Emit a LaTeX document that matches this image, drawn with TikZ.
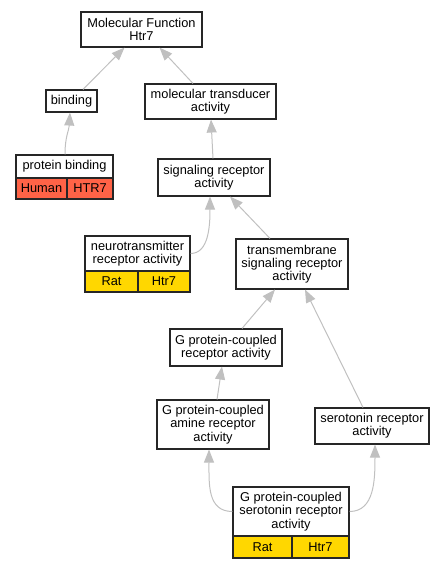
\documentclass[tikz,border=0pt]{standalone}
\usepackage{fontspec}
\setmainfont{Liberation Sans}
\usetikzlibrary{arrows.meta,calc}
\definecolor{edgec}{HTML}{C0C0C0}
\definecolor{redc}{HTML}{FF6347}
\definecolor{goldc}{HTML}{FFD700}
\newcommand{\lblfont}{\fontsize{12.8}{13.3}\selectfont}
\tikzset{
  box/.style={draw=black!85, line width=1.1pt, fill=white, inner sep=0pt, align=center, font=\lblfont, text=black},
  redcell/.style={box, fill=redc},
  goldcell/.style={box, fill=goldc},
  edge/.style={draw=edgec, line width=1pt, -{Triangle[length=13pt,width=10pt,fill=edgec]}}
}
\begin{document}
\begin{tikzpicture}[x=1pt,y=1pt]
\useasboundingbox (0,0) rectangle (445,-568);
% nodes
\node[box, minimum width=121pt, minimum height=35pt] (mf) at (141.5,-29.5) {Molecular Function\\Htr7};
\node[box, minimum width=51pt, minimum height=22pt] (bind) at (71.5,-101) {binding};
\node[box, minimum width=131pt, minimum height=35pt] (mt) at (210.5,-101.5) {molecular transducer\\activity};
\node[box, minimum width=97pt, minimum height=23pt] (pb) at (64.5,-166.5) {protein binding};
\node[redcell, minimum width=51pt, minimum height=21pt] (pbh) at (41.5,-188.5) {Human};
\node[redcell, minimum width=46pt, minimum height=21pt] (pbg) at (90,-188.5) {HTR7};
\node[box, minimum width=112pt, minimum height=37pt] (sr) at (214,-177.5) {signaling receptor\\activity};
\node[box, minimum width=105pt, minimum height=35pt] (nt) at (137.5,-253.5) {neurotransmitter\\receptor activity};
\node[goldcell, minimum width=53pt, minimum height=21pt] (ntr) at (111.5,-281.5) {Rat};
\node[goldcell, minimum width=52pt, minimum height=21pt] (ntg) at (164,-281.5) {Htr7};
\node[box, minimum width=112pt, minimum height=50pt] (tm) at (292,-264) {transmembrane\\signaling receptor\\activity};
\node[box, minimum width=112pt, minimum height=37pt] (gpcr) at (226,-347.5) {G protein-coupled\\receptor activity};
\node[box, minimum width=112pt, minimum height=49pt] (am) at (213,-424.5) {G protein-coupled\\amine receptor\\activity};
\node[box, minimum width=114pt, minimum height=36pt] (ser) at (372,-426) {serotonin receptor\\activity};
\node[box, minimum width=116pt, minimum height=49pt] (gs) at (291,-511.5) {G protein-coupled\\serotonin receptor\\activity};
\node[goldcell, minimum width=59pt, minimum height=22pt] (gsr) at (262.5,-547) {Rat};
\node[goldcell, minimum width=57pt, minimum height=22pt] (gsg) at (320.5,-547) {Htr7};
% edges
\draw[edge] ($(bind.north)+(11.5,0)$) -- ($(mf.south)+(-17,0)$);
\draw[edge] ($(mt.north)+(-17.5,0)$) -- ($(mf.south)+(18,0)$);
\draw[edge] ($(pb.north)+(0.5,0)$) .. controls +(0,18) and +(-1,-18) .. ($(bind.south)+(-1.5,0)$);
\draw[edge] ($(sr.north)+(-1,0)$) -- ($(mt.south)+(0.5,0)$);
\draw[edge] (nt.east) .. controls +(18,0) and +(0,-30) .. ($(sr.south)+(-4,0)$);
\draw[edge] ($(tm.north)+(-22,0)$) -- ($(sr.south)+(16,0)$);
\draw[edge] ($(gpcr.north)+(16,0)$) -- ($(tm.south)+(-17,0)$);
\draw[edge] ($(ser.north)+(-9,0)$) -- ($(tm.south)+(13,0)$);
\draw[edge] ($(am.north)+(4,0)$) -- ($(gpcr.south)+(-4,0)$);
\draw[edge] (gs.west) .. controls +(-25,0) and +(0,-35) .. ($(am.south)+(-4,0)$);
\draw[edge] (gs.east) .. controls +(25,0) and +(0,-35) .. ($(ser.south)+(3,0)$);
\end{tikzpicture}
\end{document}
